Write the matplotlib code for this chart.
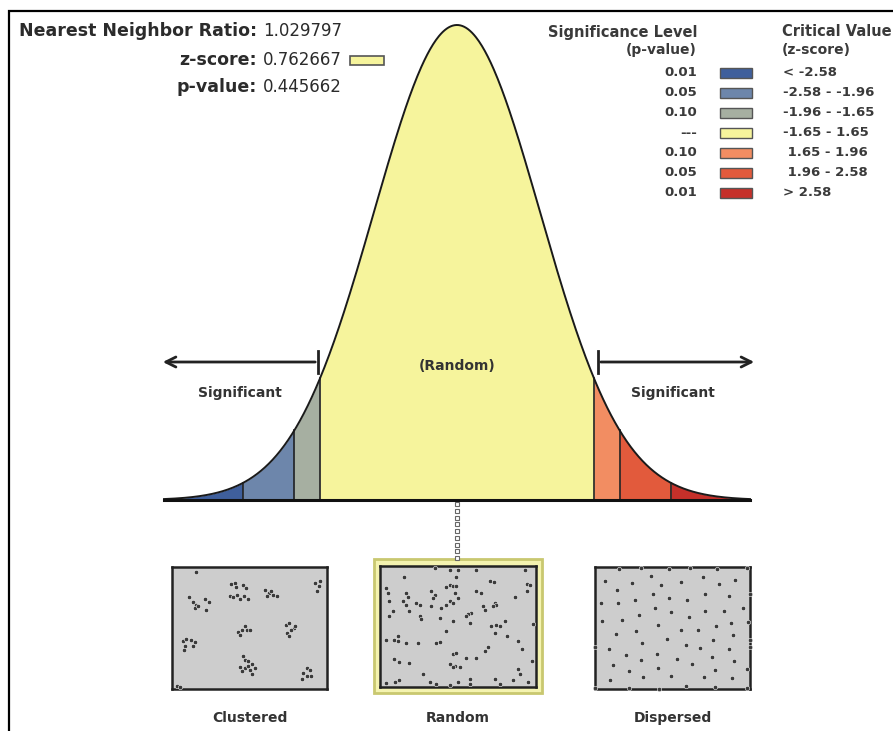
import numpy as np
import matplotlib
matplotlib.use("Agg")
import matplotlib.pyplot as plt
from matplotlib.patches import Rectangle

# ---- data -------------------------------------------------------------
nn_ratio = "1.029797"
z_score = "0.762667"
p_value = "0.445662"

# critical z values splitting the normal curve into bands
band_edges = [-3.53, -2.58, -1.96, -1.65, 1.65, 1.96, 2.58, 3.53]
band_colors = ["#3f5f9c", "#6d86ab", "#a6afa1", "#f6f49c",
               "#f28d62", "#e25a3c", "#c5302a"]
sig_levels = ["0.01", "0.05", "0.10", "---", "0.10", "0.05", "0.01"]
crit_values = ["< -2.58", "-2.58 - -1.96", "-1.96 - -1.65", "-1.65 - 1.65",
               " 1.65 - 1.96", " 1.96 - 2.58", "> 2.58"]

pattern_names = ["Clustered", "Random", "Dispersed"]

clustered_x = [72, 85, 95, 90, 120, 132, 125, 100,
               198, 210, 235, 242, 195, 205, 215, 225, 238, 250, 212,
               300, 312, 325, 335, 305, 318,
               448, 460, 455, 465, 95,
               220, 230, 240, 245, 255, 225,
               362, 372, 385, 378, 365, 370, 390,
               55, 65, 80, 92, 60, 85, 58,
               235, 240, 250, 262, 225, 240, 255, 270, 230, 262, 248,
               425, 435, 412, 425, 438, 410, 38, 45]
clustered_y = [112, 128, 135, 145, 118, 128, 150, 138,
               72, 70, 75, 85, 108, 112, 105, 118, 108, 118, 82,
               92, 100, 105, 110, 110, 95,
               70, 78, 95, 65, 38,
               218, 210, 200, 212, 210, 225,
               195, 190, 205, 212, 220, 230, 198,
               245, 238, 240, 248, 260, 258, 272,
               290, 300, 305, 312, 322, 325, 330, 325, 335, 342, 318,
               325, 330, 340, 350, 348, 358, 378, 382]

random_x = [105, 258, 320, 195, 265, 465, 360, 372, 470, 480, 50, 55, 110,
            115, 100, 110, 140, 150, 185, 195, 190, 230, 240, 250, 260, 255,
            265, 240, 250, 230, 215, 185, 320, 335, 435, 470, 375, 380, 370,
            340, 345, 305, 295, 290, 60, 70, 120, 150, 155, 210, 250, 300,
            365, 380, 390, 405, 490, 230, 375, 410, 85, 75, 85, 50, 110, 145,
            200, 210, 445, 355, 345, 455, 250, 260, 290, 320, 75, 90, 120,
            240, 255, 270, 250, 485, 445, 450, 160, 88, 78, 50, 180, 200, 240,
            265, 300, 300, 375, 390, 430, 475, 240, 60]
random_y = [65, 65, 45, 40, 45, 45, 78, 82, 88, 90, 100, 115, 115, 128, 140,
            150, 145, 150, 108, 120, 130, 98, 92, 95, 95, 115, 130, 140, 145,
            150, 160, 155, 108, 115, 128, 110, 145, 150, 155, 155, 165, 175,
            180, 185, 185, 170, 170, 185, 195, 190, 200, 205, 215, 212, 215,
            200, 210, 230, 235, 245, 245, 258, 260, 258, 268, 268, 268, 262,
            260, 278, 290, 285, 300, 298, 312, 312, 315, 325, 328, 330, 335,
            340, 340, 322, 345, 362, 360, 380, 385, 388, 385, 390, 395, 385,
            375, 390, 375, 390, 380, 385, 45, 140]

dispersed_x = [90, 155, 240, 300, 380, 470, 50, 128, 185, 215, 275, 340, 385,
               435, 85, 190, 240, 292, 345, 415, 38, 88, 138, 198, 245, 345,
               400, 458, 42, 100, 150, 298, 378, 422, 472, 82, 140, 205, 275,
               325, 428, 233, 290, 368, 62, 160, 330, 415, 478, 112, 202, 262,
               365, 432, 72, 157, 206, 308, 375, 470, 120, 63, 162, 245, 342,
               425, 20, 120, 210, 290, 375, 470, 20, 478, 478]
dispersed_y = [25, 22, 25, 22, 25, 22, 62, 68, 48, 75, 65, 50, 72, 58, 90,
               102, 115, 120, 102, 108, 130, 130, 120, 145, 155, 152, 153, 145,
               183, 180, 165, 172, 198, 188, 185, 222, 213, 195, 210, 210, 225,
               238, 255, 240, 268, 250, 265, 268, 262, 285, 282, 298, 292, 305,
               315, 300, 325, 313, 330, 328, 333, 360, 353, 350, 353, 355, 385,
               385, 388, 380, 383, 385, 260, 100, 240]

# ---- figure ------------------------------------------------------------
plt.rcParams['font.family'] = ['DejaVu Sans']
W, H = 893, 731
fig = plt.figure(figsize=(W / 100, H / 100), dpi=100)
fig.patch.set_facecolor('white')

# overlay in pixel coordinates for frame, text and arrows
ov = fig.add_axes([0, 0, 1, 1], zorder=1)
ov.set_xlim(0, W)
ov.set_ylim(H, 0)
ov.axis('off')

def px_axes(x0, y0, x1, y1, z=2):
    return fig.add_axes([x0 / W, 1 - y1 / H, (x1 - x0) / W, (y1 - y0) / H], zorder=z)

txt = '#2b2b2b'
leg = '#3a3a3a'

# outer frame
ov.plot([9, 9, W], [H, 11, 11], color='black', lw=1.6, solid_joinstyle='miter')

# result values (top left)
info_rows = [("Nearest Neighbor Ratio:", nn_ratio, 31),
             ("z-score:", z_score, 60),
             ("p-value:", p_value, 87)]
for label, val, y in info_rows:
    ov.text(257, y, label, ha='right', va='center', fontsize=12.5,
            fontweight='bold', color=txt)
    ov.text(342, y, val, ha='right', va='center', fontsize=12, color=txt)
ov.add_patch(Rectangle((350, 56), 34, 9, facecolor=band_colors[3],
                       edgecolor='#555555', lw=1.2))

# legend (top right)
ov.text(697, 32, "Significance Level", ha='right', va='center', fontsize=10.5,
        fontweight='bold', color=leg)
ov.text(697, 50, "(p-value)", ha='right', va='center', fontsize=10,
        fontweight='bold', color=leg)
ov.text(782, 32, "Critical Value", ha='left', va='center', fontsize=10.5,
        fontweight='bold', color=leg)
ov.text(782, 50, "(z-score)", ha='left', va='center', fontsize=10,
        fontweight='bold', color=leg)
for i, (lev, cv, col) in enumerate(zip(sig_levels, crit_values, band_colors)):
    y = 73 + i * 20
    ov.text(697, y, lev, ha='right', va='center', fontsize=9.5,
            fontweight='bold', color=leg)
    ov.add_patch(Rectangle((720, y - 5), 32, 10, facecolor=col,
                           edgecolor='#555555', lw=1))
    ov.text(783, y, cv, ha='left', va='center', fontsize=9.5,
            fontweight='bold', color=leg)

# normal curve with coloured bands
cx = px_axes(164, 25, 750, 500, z=2)
cx.patch.set_alpha(0)
cx.set_xlim(band_edges[0], band_edges[-1])
pdf_max = 1 / np.sqrt(2 * np.pi)
cx.set_ylim(0, pdf_max)
cx.axis('off')

def pdf(z):
    return np.exp(-0.5 * np.asarray(z) ** 2) / np.sqrt(2 * np.pi)

for a, b, col in zip(band_edges[:-1], band_edges[1:], band_colors):
    zz = np.linspace(a, b, 200)
    cx.fill_between(zz, 0, pdf(zz), color=col, lw=0)
for e in band_edges[1:-1]:
    cx.plot([e, e], [0, pdf(e)], color='#222222', lw=1.2)
zz = np.linspace(band_edges[0], band_edges[-1], 600)
cx.plot(zz, pdf(zz), color='#1a1a1a', lw=1.4, clip_on=False)
cx.plot([band_edges[0], band_edges[-1]], [0, 0], color='#111111', lw=2.2,
        clip_on=False)

# arrows and labels on the curve
ov.annotate("", xy=(160, 362), xytext=(318, 362), zorder=3,
            arrowprops=dict(arrowstyle='->', lw=2, color='#222222',
                            mutation_scale=18))
ov.plot([318, 318], [351, 373], color='#222222', lw=2, zorder=3)
ov.annotate("", xy=(757, 362), xytext=(598, 362), zorder=3,
            arrowprops=dict(arrowstyle='->', lw=2, color='#222222',
                            mutation_scale=18))
ov.plot([598, 598], [351, 373], color='#222222', lw=2, zorder=3)
ov.text(240, 393, "Significant", ha='center', va='center', fontsize=10,
        fontweight='bold', color='#333333', zorder=3)
ov.text(673, 393, "Significant", ha='center', va='center', fontsize=10,
        fontweight='bold', color='#333333', zorder=3)
fig.text(457 / W, 1 - 366 / H, "(Random)", ha='center', va='center',
         fontsize=10, fontweight='bold', color='#333333', zorder=5)

# connector from the curve to the random pattern
ov.plot([457] * 9, np.linspace(504, 558, 9), ls='none', marker='s',
        markersize=3.2, mfc='white', mec='#666666', mew=0.8, zorder=3)

# point pattern boxes
ov.add_patch(Rectangle((374, 559), 168, 134, facecolor='#f4f3b0',
                       edgecolor='#c9c870', lw=2, zorder=1))

boxes = [
    ((172, 567, 327, 689), (22, 485, 388, 22), clustered_x, clustered_y),
    ((380, 566, 536, 687), (32, 498, 400, 33), random_x, random_y),
    ((595, 567, 750, 689), (20, 478, 388, 20), dispersed_x, dispersed_y),
]
for name, (rect, lims, xs, ys) in zip(pattern_names, boxes):
    bx = px_axes(*rect, z=4)
    bx.set_facecolor('#cdcdcd')
    bx.set_xlim(lims[0], lims[1])
    bx.set_ylim(lims[2], lims[3])
    bx.set_xticks([])
    bx.set_yticks([])
    for s in bx.spines.values():
        s.set_linewidth(1.8)
        s.set_color('#222222')
    bx.scatter(xs, ys, s=10, color='#3a3a3a', edgecolors='#f0f0f0',
               linewidths=0.4, clip_on=False, zorder=3)
    ov.text((rect[0] + rect[2]) / 2, 718, name, ha='center', va='center',
            fontsize=10, fontweight='bold', color='#333333')

fig.savefig("out.png", dpi=100, facecolor='white')
